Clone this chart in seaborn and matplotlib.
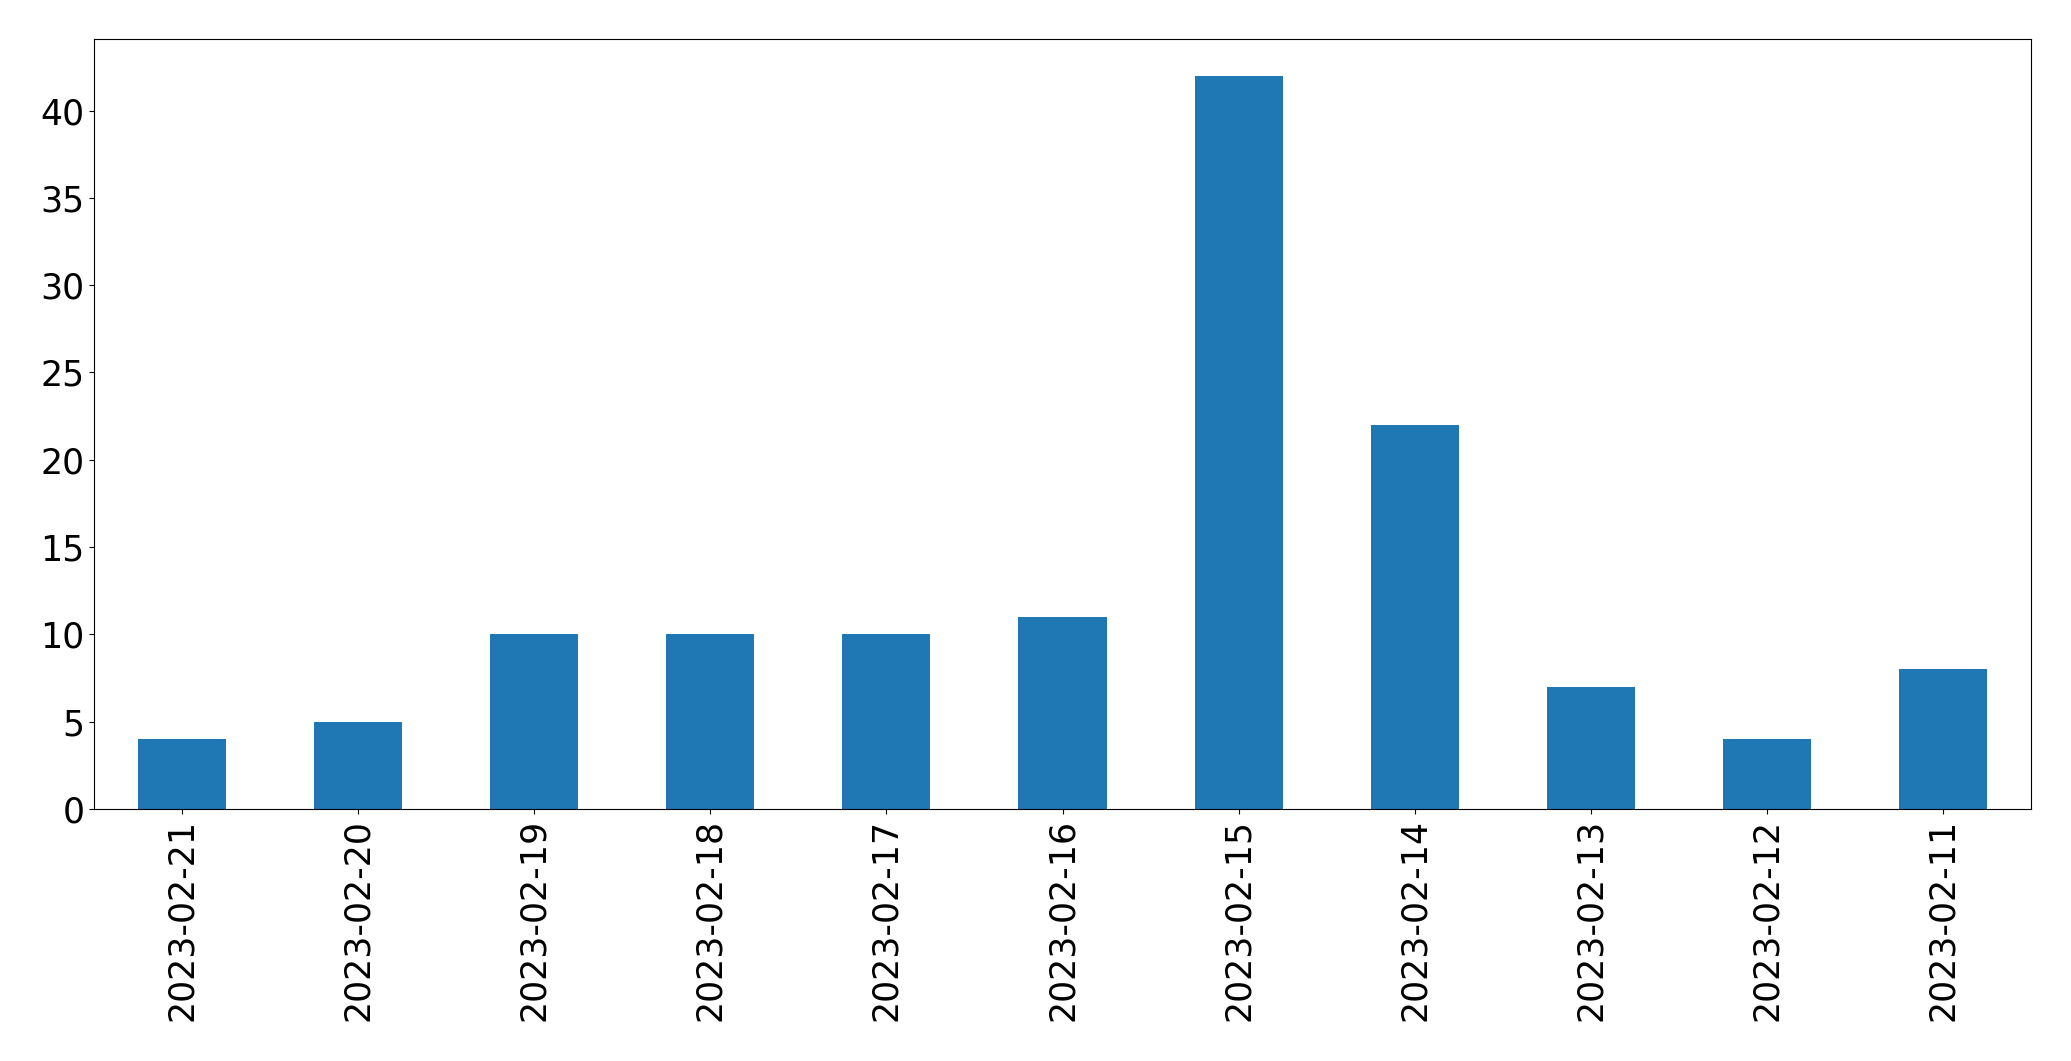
import matplotlib
matplotlib.use("Agg")
import matplotlib.pyplot as plt
import seaborn as sns
import pandas as pd

# daily counts, newest first (as in the original index order)
dates = ["2023-02-21", "2023-02-20", "2023-02-19", "2023-02-18", "2023-02-17",
         "2023-02-16", "2023-02-15", "2023-02-14", "2023-02-13", "2023-02-12",
         "2023-02-11"]
counts = [4, 5, 10, 10, 10, 11, 42, 22, 7, 4, 8]

df = pd.DataFrame({"date": dates, "count": counts})

fig = plt.figure(figsize=(20.71, 10.61), dpi=100)
ax = fig.add_axes([94 / 2071, 1 - 809 / 1061, 1937 / 2071, 770 / 1061])

sns.barplot(data=df, x="date", y="count", order=dates, color="#1f77b4",
            saturation=1, width=0.5, ax=ax)

ax.set_xlim(-0.5, len(dates) - 0.5)
ax.set_ylim(0, max(counts) * 1.05)
ax.set_xlabel("")
ax.set_ylabel("")
ax.tick_params(axis="both", labelsize=25)
ax.tick_params(axis="x", labelrotation=90)

fig.savefig("out.png", dpi=100)
